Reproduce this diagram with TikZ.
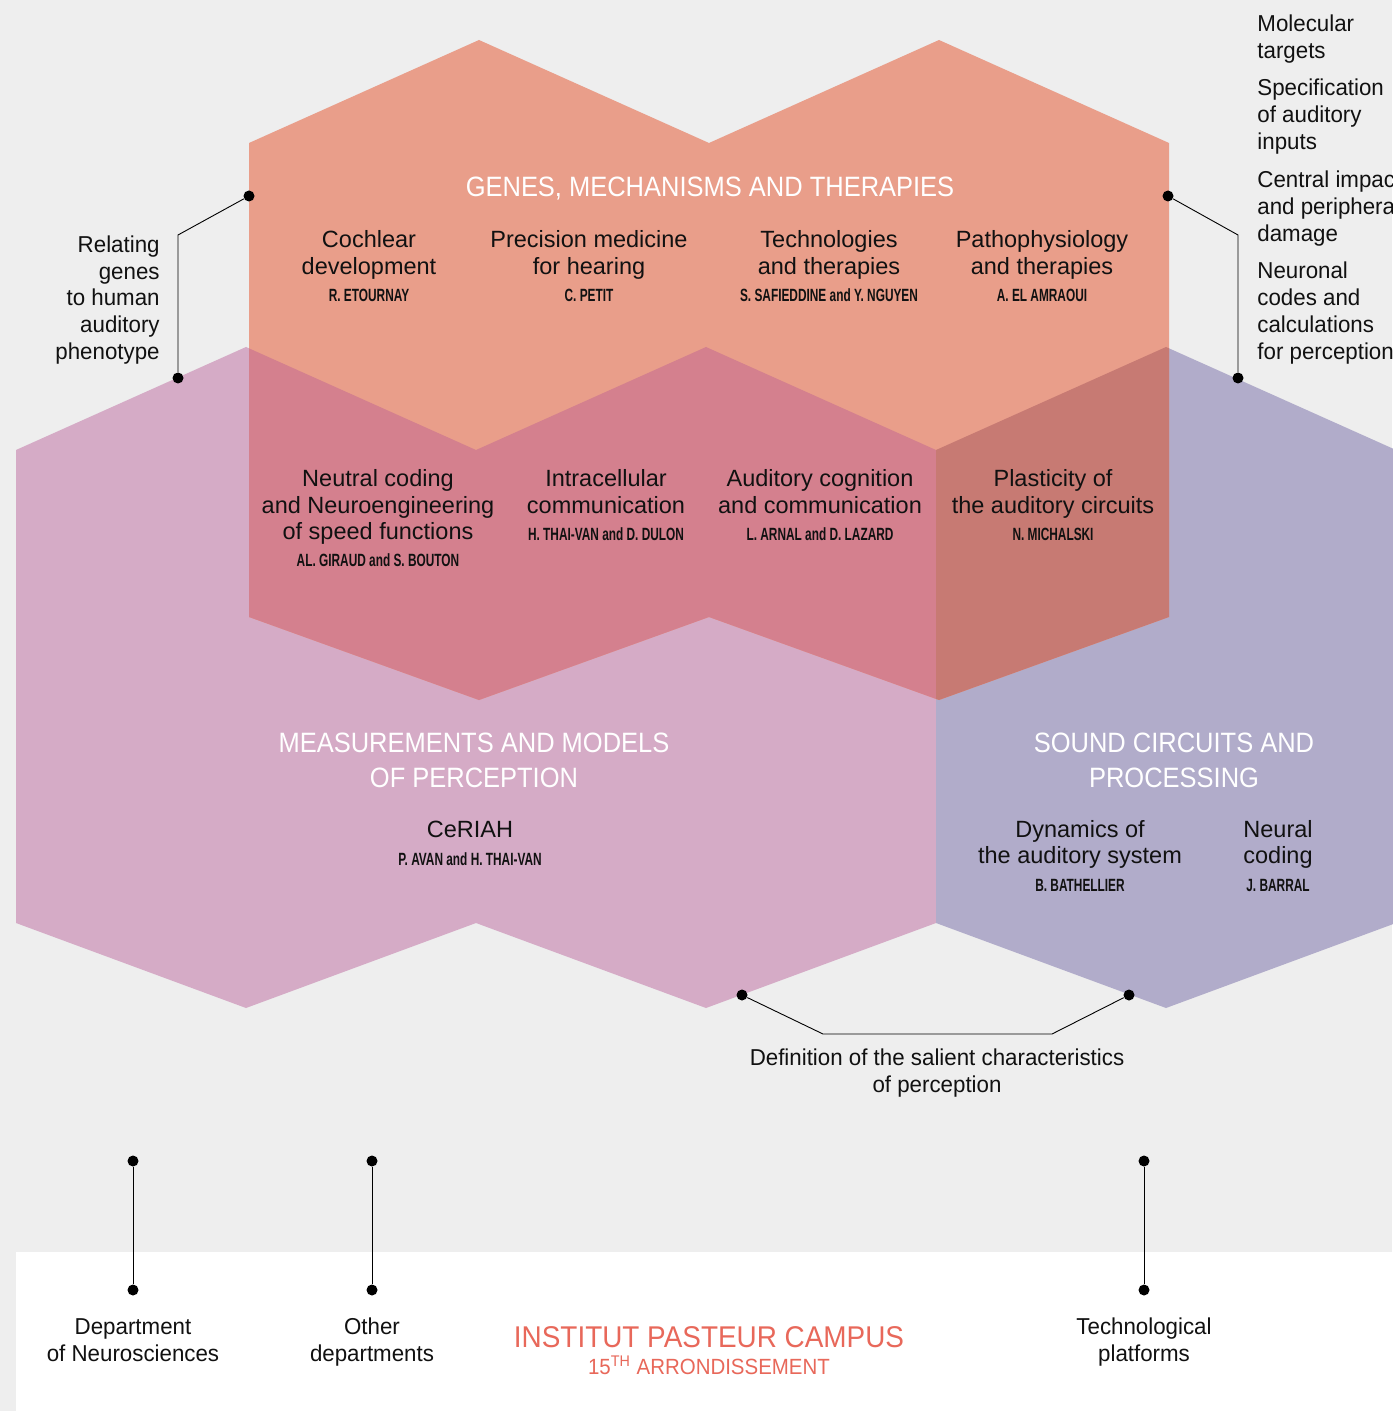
\documentclass[tikz,border=0pt]{standalone}
\usepackage{fontspec}
\setmainfont{Liberation Sans}
\newfontfamily\fItem{Liberation Sans}
\newfontfamily\fName[FakeStretch=0.67]{Liberation Sans}
\newfontfamily\fTitle[FakeStretch=0.91]{Liberation Sans}
\newfontfamily\fLab[FakeStretch=0.97]{Liberation Sans}
\newfontfamily\fCamp[FakeStretch=0.93]{Liberation Sans}
\definecolor{bgc}{HTML}{EEEEEE}
\definecolor{salc}{HTML}{E99E8A}
\definecolor{mauc}{HTML}{D5ABC6}
\definecolor{lavc}{HTML}{B1ACCA}
\definecolor{ovac}{HTML}{D4808E}
\definecolor{ovbc}{HTML}{C77A73}
\definecolor{redc}{HTML}{E8685A}
\definecolor{txtc}{HTML}{111111}
\newcommand\SalPath{(249,143) -- (479,40) -- (709,143) -- (939,40) -- (1169,143) -- (1169,617) -- (939,700) -- (709,617) -- (479,700) -- (249,617) -- cycle}
\newcommand\MauPath{(16,450) -- (246,347) -- (476,450) -- (706,347) -- (936,450) -- (936,923) -- (706,1008) -- (476,923) -- (246,1008) -- (16,923) -- cycle}
\newcommand\LavPath{(936,450) -- (1166,347) -- (1396,450) -- (1396,923) -- (1166,1008) -- (936,923) -- cycle}
\tikzset{
  itm/.style={inner sep=0pt, anchor=base, text=txtc, font=\fItem\fontsize{11.75}{14}\selectfont},
  nm/.style={inner sep=0pt, anchor=base, text=txtc, font=\fName\bfseries\fontsize{8.85}{10}\selectfont},
  ttl/.style={inner sep=0pt, anchor=base, text=white, font=\fTitle\fontsize{14}{17}\selectfont},
  lbl/.style={inner sep=0pt, anchor=base, text=txtc, font=\fLab\fontsize{11.5}{14}\selectfont},
  lblr/.style={lbl, anchor=base east},
  lbll/.style={lbl, anchor=base west},
  camp/.style={inner sep=0pt, anchor=base, text=redc, font=\fCamp\fontsize{15}{18}\selectfont},
  campsub/.style={inner sep=0pt, anchor=base, text=redc, font=\fCamp\fontsize{11}{13}\selectfont},
  dot/.style={circle, fill=black, inner sep=0pt, minimum size=5.5pt},
  con/.style={draw=black, line width=0.45pt},
}
\begin{document}
\begin{tikzpicture}[x=0.5pt,y=-0.5pt]
\useasboundingbox (0,0) rectangle (1392,1411);
\fill[bgc] (0,0) rectangle (1392,1411);
\fill[white] (16,1252) rectangle (1392,1411);
% hexagon groups
\fill[mauc] \MauPath;
\fill[lavc] \LavPath;
\fill[salc] \SalPath;
\begin{scope}
  \clip \SalPath;
  \fill[ovac] \MauPath;
  \fill[ovbc] \LavPath;
\end{scope}
% titles
\node[ttl] (tG) at (710,197) {GENES, MECHANISMS AND THERAPIES};
\node[ttl] (tM1) at (474,752) {MEASUREMENTS AND MODELS};
\node[ttl] (tM2) at (474,787) {OF PERCEPTION};
\node[ttl] (tS1) at (1174,752) {SOUND CIRCUITS AND};
\node[ttl] (tS2) at (1174,787) {PROCESSING};
% top row items
\node[itm] (a1) at (369,248) {Cochlear};
\node[itm] (a2) at (369,275) {development};
\node[nm]  (an) at (369,302) {R. ETOURNAY};
\node[itm] (b1) at (589,248) {Precision medicine};
\node[itm] (b2) at (589,275) {for hearing};
\node[nm]  (bn) at (589,302) {C. PETIT};
\node[itm] (c1) at (829,248) {Technologies};
\node[itm] (c2) at (829,275) {and therapies};
\node[nm]  (cn) at (829,302) {S. SAFIEDDINE and Y. NGUYEN};
\node[itm] (d1) at (1042,248) {Pathophysiology};
\node[itm] (d2) at (1042,275) {and therapies};
\node[nm]  (dn) at (1042,302) {A. EL AMRAOUI};
% middle row items
\node[itm] (e1) at (378,486) {Neutral coding};
\node[itm] (e2) at (378,513) {and Neuroengineering};
\node[itm] (e3) at (378,539) {of speed functions};
\node[nm]  (en) at (378,566) {AL. GIRAUD and S. BOUTON};
\node[itm] (f1) at (606,486) {Intracellular};
\node[itm] (f2) at (606,513) {communication};
\node[nm]  (fn) at (606,540) {H. THAI-VAN and D. DULON};
\node[itm] (g1) at (820,486) {Auditory cognition};
\node[itm] (g2) at (820,513) {and communication};
\node[nm]  (gn) at (820,540) {L. ARNAL and D. LAZARD};
\node[itm] (h1) at (1053,486) {Plasticity of};
\node[itm] (h2) at (1053,513) {the auditory circuits};
\node[nm]  (hn) at (1053,540) {N. MICHALSKI};
% bottom row items
\node[itm] (i1) at (470,837) {CeRIAH};
\node[nm]  (in) at (470,865) {P. AVAN and H. THAI-VAN};
\node[itm] (j1) at (1080,837) {Dynamics of};
\node[itm] (j2) at (1080,863) {the auditory system};
\node[nm]  (jn) at (1080,891) {B. BATHELLIER};
\node[itm] (k1) at (1278,837) {Neural};
\node[itm] (k2) at (1278,863) {coding};
\node[nm]  (kn) at (1278,891) {J. BARRAL};
% side labels
\node[lblr] (l1) at (160,253) {Relating};
\node[lblr] (l2) at (160,280) {genes};
\node[lblr] (l3) at (160,306) {to human};
\node[lblr] (l4) at (160,333) {auditory};
\node[lblr] (l5) at (160,360) {phenotype};
\node[lbll] (r1) at (1257,32) {Molecular};
\node[lbll] (r2) at (1257,59) {targets};
\node[lbll] (r3) at (1257,96) {Specification};
\node[lbll] (r4) at (1257,123) {of auditory};
\node[lbll] (r5) at (1257,150) {inputs};
\node[lbll] (r6) at (1257,188) {Central impact};
\node[lbll] (r7) at (1257,215) {and peripheral};
\node[lbll] (r8) at (1257,242) {damage};
\node[lbll] (r9) at (1257,279) {Neuronal};
\node[lbll] (r10) at (1257,306) {codes and};
\node[lbll] (r11) at (1257,333) {calculations};
\node[lbll] (r12) at (1257,360) {for perception};
\node[lbl] (df1) at (937,1065) {Definition of the salient characteristics};
\node[lbl] (df2) at (937,1092) {of perception};
% campus labels
\node[lbl] (p1) at (133,1334) {Department};
\node[lbl] (p2) at (133,1361) {of Neurosciences};
\node[lbl] (o1) at (372,1334) {Other};
\node[lbl] (o2) at (372,1361) {departments};
\node[lbl] (q1) at (1144,1334) {Technological};
\node[lbl] (q2) at (1144,1361) {platforms};
\node[camp] (ip) at (709,1347) {INSTITUT PASTEUR CAMPUS};
\node[campsub] (ar) at (709,1374) {15\textsuperscript{TH} ARRONDISSEMENT};
% connector dots
\node[dot] (L1) at (249,196) {};
\node[dot] (L2) at (178,378) {};
\coordinate (Lb) at (178,235);
\node[dot] (R1) at (1168,196) {};
\node[dot] (R2) at (1238,378) {};
\coordinate (Rb) at (1238,235);
\node[dot] (B1) at (742,995) {};
\node[dot] (B2) at (1129,995) {};
\coordinate (Bb1) at (823,1034);
\coordinate (Bb2) at (1052,1034);
\node[dot] (V1a) at (133,1161) {};
\node[dot] (V1b) at (133,1290) {};
\node[dot] (V2a) at (372,1161) {};
\node[dot] (V2b) at (372,1290) {};
\node[dot] (V3a) at (1144,1161) {};
\node[dot] (V3b) at (1144,1290) {};
% connectors
\draw[con] (L1) -- (Lb) -- (L2);
\draw[con] (R1) -- (Rb) -- (R2);
\draw[con] (B1) -- (Bb1) -- (Bb2) -- (B2);
\draw[con] (V1a) -- (V1b);
\draw[con] (V2a) -- (V2b);
\draw[con] (V3a) -- (V3b);
\end{tikzpicture}
\end{document}
